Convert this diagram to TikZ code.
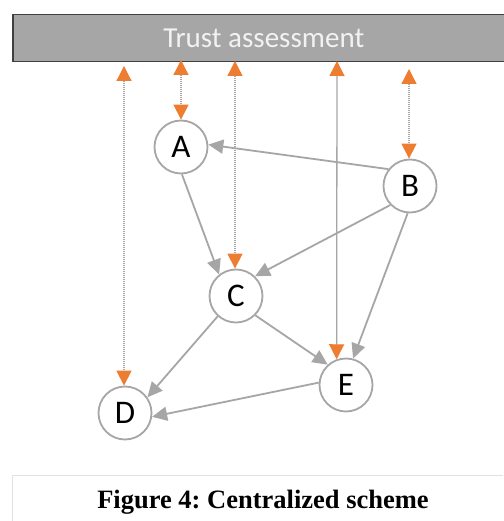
\documentclass[tikz,border=0pt]{standalone}
\usepackage{fontspec}
\setmainfont{Liberation Serif}
\newfontfamily\uifont{Carlito}
\usetikzlibrary{arrows.meta}
\definecolor{edgegray}{HTML}{A6A6A6}
\definecolor{bargray}{HTML}{A6A6A6}
\definecolor{barline}{HTML}{404040}
\definecolor{trustorange}{HTML}{ED7D31}
\definecolor{framegray}{HTML}{E2E2E2}
\frenchspacing
\begin{document}
\begin{tikzpicture}[x=1pt,y=-1pt,
  peer/.style={circle, draw=edgegray, line width=1.8pt, fill=white,
    minimum size=53pt, inner sep=0pt, font=\uifont\fontsize{33}{33}\selectfont},
  link/.style={draw=edgegray, line width=1.8pt,
    -{Triangle[length=15pt,width=14pt]}},
  report/.style={draw=edgegray, line width=1.3pt, dash pattern=on 1pt off 1pt,
    {Triangle[length=15pt,width=15pt,color=trustorange]}-{Triangle[length=15pt,width=15pt,color=trustorange]}},
  reportsolid/.style={report, solid},
]
\useasboundingbox (0,0) rectangle (503,521);
\fill[white] (0,0) rectangle (503,521);

% central trust assessment bar
\node[anchor=north west, minimum width=502pt, minimum height=47pt, inner sep=0pt,
      fill=bargray, draw=barline, line width=1.5pt,
      text=white!95!black, font=\uifont\fontsize{29}{29}\selectfont] (bar) at (12,14) {Trust assessment};

% peers
\node[peer] (A) at (181,147) {A};
\node[peer] (B) at (410,186) {B};
\node[peer] (C) at (236,296) {C};
\node[peer] (E) at (346,385) {E};
\node[peer] (D) at (125,413) {D};

% reporting channels to the bar
\coordinate (tD) at (124,66);
\coordinate (tA) at (181,60);
\coordinate (tC) at (235,61);
\coordinate (tE) at (337,61);
\coordinate (tB) at (409,69);
\draw[report] (tD) -- (tD |- D.north);
\draw[report] (tA) -- (A.north);
\draw[report] (tC) -- (tC |- C.north);
\draw[reportsolid] (tE) -- (E.110);
\draw[report] (tB) -- (tB |- B.north);

% trust relations between peers
\draw[link] (B.142) -- (A.5);
\draw[link] (A.-88) -- (C.128);
\draw[link] (B.224) -- (C.46);
\draw[link] (B.-95) -- (E.75);
\draw[link] (C.-45) -- (E.132);
\draw[link] (C.-132) -- (D.35);
\draw[link] (E.175) -- (D.-8);

% caption
\draw[framegray, line width=0.8pt] (12,521) -- (12,475) -- (503,475);
\node[font=\bfseries\fontsize{26.5}{26.5}\selectfont] (cap) at (263,502) {Figure 4: Centralized scheme};
\end{tikzpicture}
\end{document}
